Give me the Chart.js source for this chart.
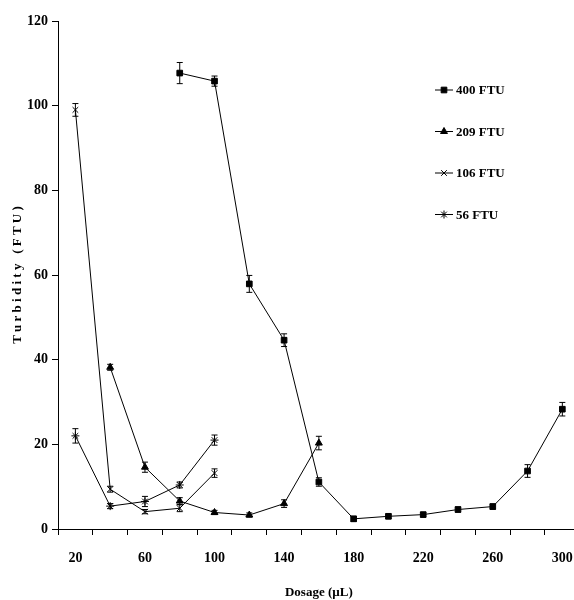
<!DOCTYPE html>
<html>
<head>
<meta charset="utf-8">
<script src="https://cdn.jsdelivr.net/npm/chart.js@4/dist/chart.umd.min.js"></script>
<style>
  html, body { margin: 0; padding: 0; background: #fff; overflow: hidden; }
  #turbChart { display: block; }
</style>
</head>
<body>
<canvas id="turbChart" width="588" height="600"></canvas>
<script>
// Dosage (uL) categories
const dosages = [20, 40, 60, 80, 100, 120, 140, 160, 180, 200, 220, 240, 260, 280, 300];

// Turbidity (FTU) per initial turbidity level
const ftu400 = [null, null, null, 107.7, 105.8, 57.9, 44.6, 11.1, 2.4, 3.0, 3.4, 4.6, 5.3, 13.7, 28.3];
const ftu209 = [null, 38.2, 14.6, 6.6, 3.9, 3.3, 6.0, 20.3, null, null, null, null, null, null, null];
const ftu106 = [99.0, 9.4, 4.1, 4.9, 13.2, null, null, null, null, null, null, null, null, null, null];
const ftu56 = [22.0, 5.4, 6.5, 10.4, 21.0, null, null, null, null, null, null, null, null, null, null];

// error bar half-heights
const err400 = [null, null, null, 2.5, 1.2, 2.0, 1.5, 1.0, 0.6, 0.5, 0.5, 0.6, 0.6, 1.5, 1.6];
const err209 = [null, 0.7, 1.2, 0.8, 0.5, 0.5, 0.9, 1.6];
const err106 = [1.5, 0.7, 0.5, 0.8, 1.0];
const err56 = [1.7, 0.6, 1.2, 0.7, 1.2];

const seriesNames = ['400 FTU', '209 FTU', '106 FTU', '56 FTU'];
const yTicks = [0, 20, 40, 60, 80, 100, 120];

const FONT = "'Liberation Serif', 'Times New Roman', serif";

function makeSet(label, data, errs, style, radius) {
    return {
        label: label,
        data: data,
        errors: errs,
        borderColor: '#000',
        backgroundColor: '#000',
        borderWidth: 1,
        pointStyle: style,
        pointRadius: radius,
        pointBorderWidth: 1,
        pointBorderColor: '#000',
        pointBackgroundColor: '#000',
        tension: 0,
        fill: false,
    };
}

// draws vertical error bars with caps
const errorBars = {
    id: 'errorBars',
    afterDatasetsDraw(chart) {
        const c = chart.ctx;
        const yScale = chart.scales.y;
        c.save();
        c.strokeStyle = '#000';
        c.lineWidth = 1;
        chart.data.datasets.forEach((ds, i) => {
            const meta = chart.getDatasetMeta(i);
            meta.data.forEach((pt, j) => {
                const v = ds.data[j];
                const e = ds.errors[j];
                if (v == null || e == null) return;
                const top = yScale.getPixelForValue(v + e);
                const bot = yScale.getPixelForValue(v - e);
                c.beginPath();
                c.moveTo(pt.x, top);
                c.lineTo(pt.x, bot);
                c.moveTo(pt.x - 3, top);
                c.lineTo(pt.x + 3, top);
                c.moveTo(pt.x - 3, bot);
                c.lineTo(pt.x + 3, bot);
                c.stroke();
            });
        });
        c.restore();
    },
};

// legend drawn inside the plot, top right
const insideLegend = {
    id: 'insideLegend',
    afterDraw(chart) {
        const c = chart.ctx;
        c.save();
        c.font = 'bold 13px ' + FONT;
        c.textBaseline = 'middle';
        c.fillStyle = '#000';
        chart.data.datasets.forEach((ds, i) => {
            const y = 90 + i * 41.5;
            c.strokeStyle = '#000';
            c.lineWidth = 1;
            c.beginPath();
            c.moveTo(435, y);
            c.lineTo(453, y);
            c.stroke();
            Chart.helpers.drawPoint(c, {
                pointStyle: ds.pointStyle,
                radius: ds.pointRadius,
                borderWidth: 1,
                rotation: 0,
            }, 444, y);
            c.fillText(ds.label, 456, y + 1);
        });
        c.restore();
    },
};

const ctx = document.getElementById('turbChart').getContext('2d');

const chart = new Chart(ctx, {
    type: 'line',
    data: {
        labels: dosages.map(String),
        datasets: [
            makeSet(seriesNames[0], ftu400, err400, 'rect', 4),
            makeSet(seriesNames[1], ftu209, err209, 'triangle', 4),
            makeSet(seriesNames[2], ftu106, err106, 'crossRot', 4),
            makeSet(seriesNames[3], ftu56, err56, 'star', 4),
        ],
    },
    options: {
        responsive: false,
        animation: false,
        layout: { padding: { top: 21, right: 2, left: 0, bottom: 0 } },
        plugins: {
            legend: { display: false },
            tooltip: { enabled: false },
        },
        scales: {
            x: {
                type: 'category',
                offset: true,
                afterFit: (s) => { s.height = 71; },
                grid: {
                    display: true,
                    drawOnChartArea: false,
                    offset: true,
                    tickLength: 6,
                    color: '#000',
                },
                border: { display: true, color: '#000', width: 1 },
                ticks: {
                    autoSkip: false,
                    maxRotation: 0,
                    padding: 15,
                    color: '#000',
                    font: { family: FONT, size: 14, weight: 'bold' },
                    callback: (val, idx) => (idx % 2 === 0 ? dosages[idx] : ''),
                },
                title: {
                    display: true,
                    text: 'Dosage (µL)',
                    color: '#000',
                    font: { family: FONT, size: 13, weight: 'bold' },
                    padding: { top: 0, bottom: 0 },
                },
            },
            y: {
                min: 0,
                max: 120,
                afterFit: (s) => { s.width = 58; },
                afterBuildTicks: (s) => { s.ticks = yTicks.map((v) => ({ value: v })); },
                grid: {
                    display: true,
                    drawOnChartArea: false,
                    tickLength: 6,
                    color: '#000',
                },
                border: { display: true, color: '#000', width: 1 },
                ticks: {
                    padding: 4,
                    color: '#000',
                    font: { family: FONT, size: 14, weight: 'bold' },
                },
                title: {
                    display: true,
                    text: 'T u r b i d i t y   ( F T U )',
                    color: '#000',
                    font: { family: FONT, size: 13, weight: 'bold' },
                    padding: { top: 10, bottom: 0 },
                },
            },
        },
    },
    plugins: [errorBars, insideLegend],
});
</script>
</body>
</html>
